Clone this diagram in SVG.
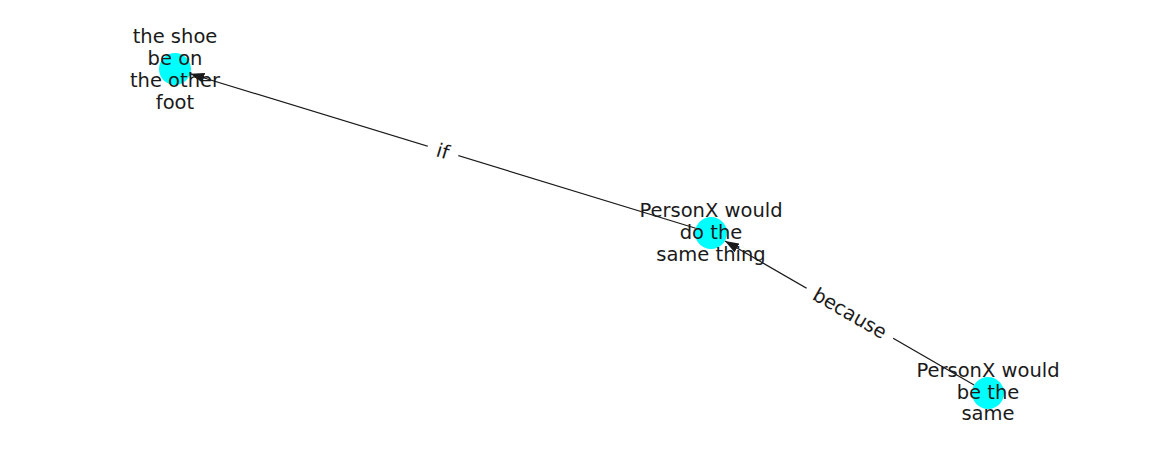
<svg xmlns="http://www.w3.org/2000/svg" width="1162" height="462" viewBox="0 0 1162 462">
<defs>
<style>
.node{fill:#00ffff;}
.edge{stroke:#1a1a1a;stroke-width:1.2;fill:none;}
.lbl{font-family:"DejaVu Sans",sans-serif;font-size:19.5px;fill:#1a1a1a;text-anchor:middle;}
.elbg{fill:#ffffff;}
</style>
<marker id="arr" viewBox="0 0 14 10" refX="14" refY="5" markerWidth="14" markerHeight="10" markerUnits="userSpaceOnUse" orient="auto">
<path d="M0,0 L14,5 L0,10 Z" fill="#1a1a1a"/>
</marker>
</defs>
<rect width="1162" height="462" fill="#ffffff"/>
<g id="connectors">
<line class="edge" x1="695.7" y1="228.3" x2="190.3" y2="73.7" marker-end="url(#arr)"/>
<line class="edge" x1="974.1" y1="385" x2="724.9" y2="241" marker-end="url(#arr)"/>
<g transform="translate(443,151) rotate(17)">
<rect class="elbg" x="-16" y="-12" width="32" height="24"/>
<text class="lbl" x="0" y="7">if</text>
</g>
<g transform="translate(850,313) rotate(30)">
<rect class="elbg" x="-50" y="-12" width="100" height="24"/>
<text class="lbl" x="0" y="7">because</text>
</g>
</g>
<g id="node-shoe">
<circle class="node" cx="175" cy="69" r="16"/>
<text class="lbl" x="175" y="43">the shoe</text>
<text class="lbl" x="175" y="65">be on</text>
<text class="lbl" x="175" y="87">the other</text>
<text class="lbl" x="175" y="109">foot</text>
</g>
<g id="node-same-thing">
<circle class="node" cx="711" cy="233" r="16"/>
<text class="lbl" x="711" y="217">PersonX would</text>
<text class="lbl" x="711" y="239">do the</text>
<text class="lbl" x="711" y="261">same thing</text>
</g>
<g id="node-be-same">
<circle class="node" cx="988" cy="393" r="16"/>
<text class="lbl" x="988" y="377">PersonX would</text>
<text class="lbl" x="988" y="399">be the</text>
<text class="lbl" x="988" y="420">same</text>
</g>
</svg>
